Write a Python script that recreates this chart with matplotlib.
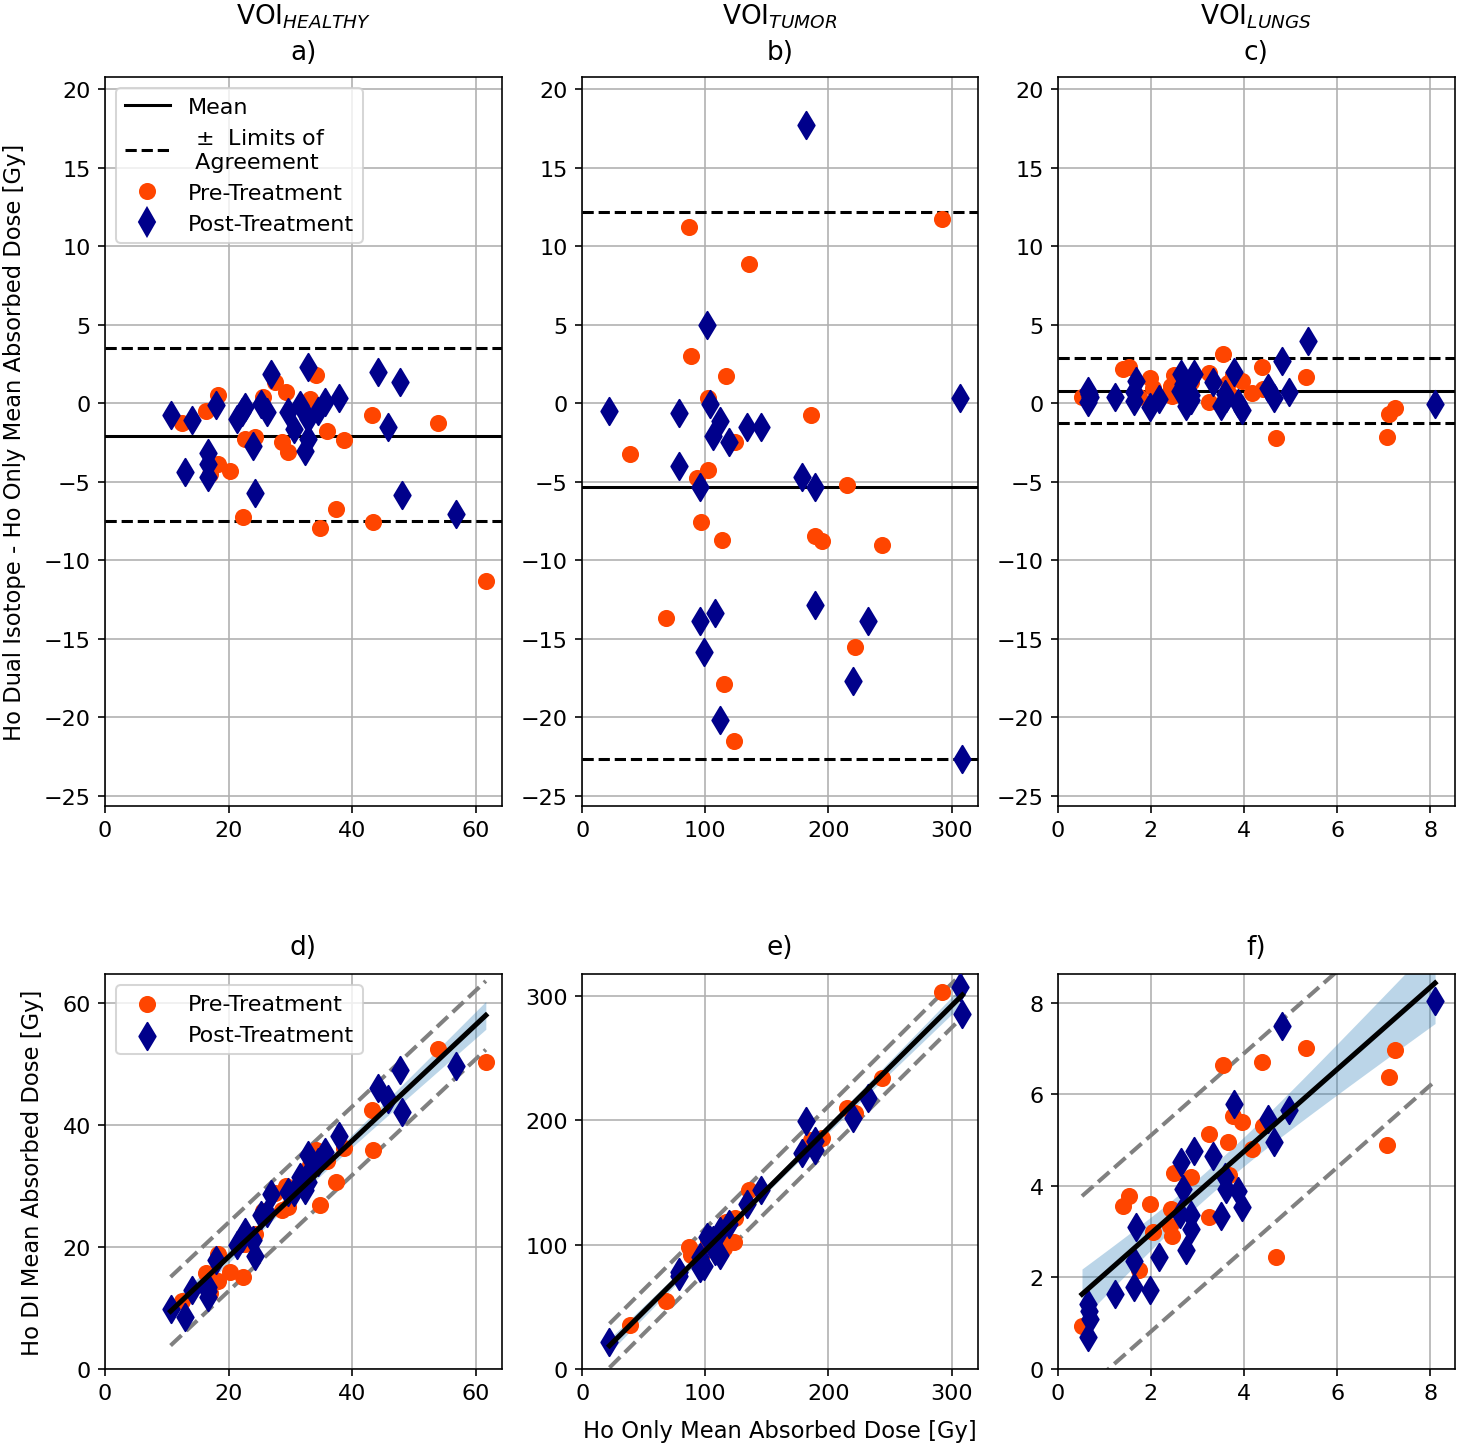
import numpy as np
import matplotlib.pyplot as plt
from matplotlib.lines import Line2D

# VOI healthy: Ho only dose and (Ho DI - Ho only) difference
healthy_pre_x = [12.5, 16.3, 18.3, 18.3, 17.0, 20.2, 22.3, 22.7, 24.3, 25.5, 27.5, 29.3,
                 28.6, 29.6, 33.2, 34.1, 34.8, 35.9, 37.4, 38.6, 43.2, 43.4, 53.8, 61.6]
healthy_pre_diff = [-1.28, -0.52, 0.54, -3.9, -4.5, -4.3, -7.26, -2.28, -2.17, 0.37, 1.33, 0.69,
                    -2.45, -3.08, 0.27, 1.82, -7.92, -1.79, -6.73, -2.34, -0.75, -7.54, -1.28, -11.3]
healthy_post_x = [10.6, 14.0, 13.0, 16.6, 16.6, 16.6, 18.0, 21.3, 22.1, 22.7, 23.9, 24.3, 25.3,
                  26.2, 26.9, 29.6, 30.6, 31.6, 32.3, 32.8, 32.9, 32.9, 34.5, 35.6, 37.9, 44.1,
                  45.8, 47.7, 48.0, 56.8]
healthy_post_diff = [-0.75, -1.05, -4.4, -3.17, -3.87, -4.72, -0.11, -1.0, -0.58, -0.26, -2.7, -5.72,
                     -0.05, -0.54, 1.86, -0.54, -1.64, -0.11, -3.02, 2.28, -1.0, -2.28, -0.48, 0.06,
                     0.33, 2.0, -1.49, 1.33, -5.84, -7.05]

# VOI tumor
tumor_pre_x = [87.0, 291.9, 135.2, 88.6, 116.8, 101.9, 38.5, 123.8, 102.2, 93.2, 185.4, 215.2,
               96.7, 113.6, 189.4, 194.9, 243.1, 68.3, 221.4, 114.9, 123.6]
tumor_pre_diff = [11.24, 11.72, 8.88, 3.02, 1.71, 0.31, -3.23, -2.45, -4.25, -4.76, -0.75, -5.19,
                  -7.54, -8.71, -8.43, -8.75, -9.0, -13.67, -15.5, -17.87, -21.5]
tumor_post_x = [182.1, 101.4, 22.2, 78.9, 104.1, 112.2, 105.9, 118.9, 133.9, 145.3, 78.9, 95.4,
                178.6, 188.9, 306.8, 95.4, 108.1, 98.6, 112.2, 188.9, 232.0, 219.9, 308.7]
tumor_post_diff = [17.73, 4.98, -0.52, -0.64, -0.05, -1.11, -2.07, -2.49, -1.54, -1.54, -3.98, -5.36,
                   -4.72, -5.36, 0.31, -13.9, -13.37, -15.86, -20.2, -12.85, -13.9, -17.72, -22.65]

# VOI lungs
lungs_pre_x = [0.52, 1.39, 1.52, 1.98, 1.75, 2.04, 2.43, 2.40, 2.45, 2.49, 2.86, 3.24, 3.24,
               3.65, 3.68, 3.76, 3.95, 4.18, 4.40, 4.68, 3.55, 4.38, 5.32, 7.25, 7.11, 7.07]
lungs_pre_diff = [0.41, 2.18, 2.27, 1.63, 0.42, 0.95, 1.07, 0.73, 0.46, 1.79, 1.34, 0.08, 1.90,
                  1.31, 0.56, 1.78, 1.44, 0.63, 0.92, -2.24, 3.10, 2.32, 1.69, -0.28, -0.72, -2.17]
lungs_post_x = [0.64, 0.66, 0.69, 0.64, 1.23, 1.63, 1.97, 1.63, 1.67, 2.18, 2.75, 2.65, 2.93,
                2.68, 2.63, 2.86, 2.85, 3.34, 3.50, 3.60, 3.61, 3.86, 3.95, 3.78, 4.51, 4.65,
                4.82, 4.96, 8.1, 5.37]
lungs_post_diff = [0.78, 0.61, 0.40, 0.05, 0.41, 0.16, -0.24, 0.74, 1.43, 0.26, -0.16, 1.87, 1.84,
                   1.25, 0.76, 0.51, 0.21, 1.32, -0.15, 0.59, 0.32, 0.04, -0.42, 2.01, 0.95, 0.31,
                   2.67, 0.69, -0.05, 3.98]

# Bland-Altman mean and limits of agreement (upper, lower)
healthy_mean, healthy_loa = -2.07, (3.53, -7.52)
tumor_mean, tumor_loa = -5.31, (12.15, -22.65)
lungs_mean, lungs_loa = 0.80, (2.88, -1.28)

titles_top = [r"VOI$_{HEALTHY}$" + "\na)", r"VOI$_{TUMOR}$" + "\nb)", r"VOI$_{LUNGS}$" + "\nc)"]
titles_bottom = ["d)", "e)", "f)"]

PRE_COLOR = "orangered"
POST_COLOR = "darkblue"

regions = [
    (healthy_pre_x, healthy_pre_diff, healthy_post_x, healthy_post_diff, healthy_mean, healthy_loa),
    (tumor_pre_x, tumor_pre_diff, tumor_post_x, tumor_post_diff, tumor_mean, tumor_loa),
    (lungs_pre_x, lungs_pre_diff, lungs_post_x, lungs_post_diff, lungs_mean, lungs_loa),
]
xlims = [(0, 64.2), (0, 321), (0, 8.52)]
xticks = [[0, 20, 40, 60], [0, 100, 200, 300], [0, 2, 4, 6, 8]]
ylims_bottom = [(0, 64.75), (0, 317.7), (0, 8.63)]

plt.rcParams["xtick.labelsize"] = 11
plt.rcParams["ytick.labelsize"] = 11
plt.rcParams["axes.labelsize"] = 11.2

fig = plt.figure(figsize=(1459 / 146, 1446 / 146), dpi=146)
lefts = [0.072, 0.399, 0.725]
widths = [0.272, 0.271, 0.272]

for i, (px, pd, qx, qd, mean, loa) in enumerate(regions):
    px, pd, qx, qd = map(np.asarray, (px, pd, qx, qd))

    # Bland-Altman plot
    ax = fig.add_axes([lefts[i], 0.442, widths[i], 0.504])
    ax.grid(True, zorder=0)
    ax.axhline(mean, color="black", lw=1.5, zorder=2)
    for l in loa:
        ax.axhline(l, color="black", lw=1.5, ls="--", zorder=2)
    ax.scatter(px, pd, s=55, color=PRE_COLOR, marker="o", zorder=3)
    ax.scatter(qx, qd, s=90, color=POST_COLOR, marker="d", zorder=3)
    ax.set_xlim(xlims[i])
    ax.set_xticks(xticks[i])
    ax.set_ylim(-25.64, 20.76)
    ax.set_yticks(range(-25, 21, 5))
    ax.set_title(titles_top[i], fontsize=13, pad=9, linespacing=1.45)
    if i == 0:
        ax.set_ylabel("Ho Dual Isotope - Ho Only Mean Absorbed Dose [Gy]", labelpad=9)
        handles = [
            Line2D([], [], color="black", lw=1.5),
            Line2D([], [], color="black", lw=1.5, ls="--"),
            Line2D([], [], color=PRE_COLOR, marker="o", ls="", markersize=7.4),
            Line2D([], [], color=POST_COLOR, marker="d", ls="", markersize=9.5),
        ]
        labels = ["Mean", r" $\pm$  Limits of" + "\n Agreement", "Pre-Treatment", "Post-Treatment"]
        ax.legend(handles, labels, loc="upper left", fontsize=11)

    # Correlation plot: Ho DI vs Ho only
    bx = fig.add_axes([lefts[i], 0.0526, widths[i], 0.273])
    bx.grid(True, zorder=0)
    py = px + pd
    qy = qx + qd
    x_all = np.concatenate([px, qx])
    y_all = np.concatenate([py, qy])
    slope, intercept = np.polyfit(x_all, y_all, 1)
    n = len(x_all)
    resid = y_all - (slope * x_all + intercept)
    s = np.sqrt(np.sum(resid ** 2) / (n - 2))
    xs = np.linspace(x_all.min(), x_all.max(), 200)
    yhat = slope * xs + intercept
    se = s * np.sqrt(1 / n + (xs - x_all.mean()) ** 2 / np.sum((x_all - x_all.mean()) ** 2))
    bx.fill_between(xs, yhat - 1.99 * se, yhat + 1.99 * se, color="C0", alpha=0.3, lw=0, zorder=2)
    bx.plot(xs, yhat + 1.96 * s, color="grey", lw=2, ls="--", zorder=2)
    bx.plot(xs, yhat - 1.96 * s, color="grey", lw=2, ls="--", zorder=2)
    bx.scatter(px, py, s=55, color=PRE_COLOR, marker="o", zorder=3, label="Pre-Treatment")
    bx.scatter(qx, qy, s=90, color=POST_COLOR, marker="d", zorder=3, label="Post-Treatment")
    bx.plot(xs, yhat, color="black", lw=2.5, zorder=4)
    bx.set_xlim(xlims[i])
    bx.set_xticks(xticks[i])
    bx.set_ylim(ylims_bottom[i])
    bx.set_yticks(xticks[i])
    bx.set_title(titles_bottom[i], fontsize=13, pad=10)
    if i == 0:
        bx.set_ylabel("Ho DI Mean Absorbed Dose [Gy]", labelpad=9)
        bx.legend(loc="upper left", fontsize=11)
    if i == 1:
        bx.set_xlabel("Ho Only Mean Absorbed Dose [Gy]", labelpad=8)

fig.savefig("out.png", dpi=146)
